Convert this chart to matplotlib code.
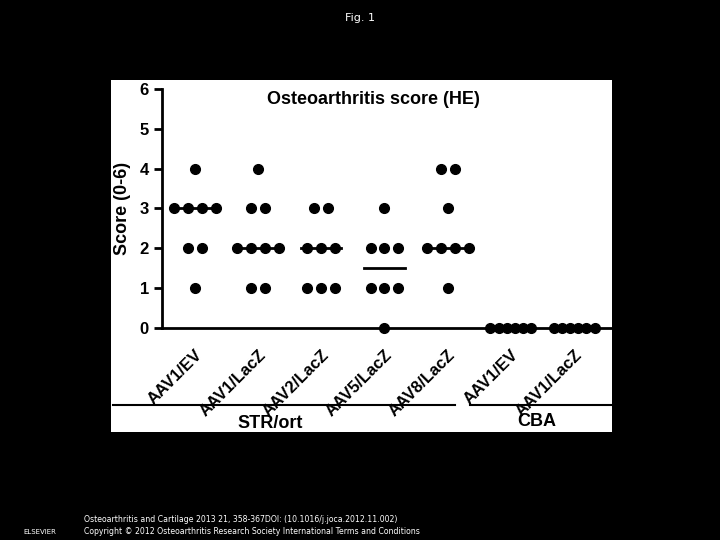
import numpy as np
import matplotlib
matplotlib.use('Agg')
from matplotlib import pyplot
from matplotlib.patches import Rectangle
from matplotlib.lines import Line2D

groups = ['AAV1/EV', 'AAV1/LacZ', 'AAV2/LacZ', 'AAV5/LacZ', 'AAV8/LacZ', 'AAV1/EV', 'AAV1/LacZ']
scores = [
    [4, 3, 3, 3, 3, 2, 2, 1],
    [4, 3, 3, 2, 2, 2, 2, 1, 1],
    [3, 3, 2, 2, 2, 1, 1, 1],
    [3, 2, 2, 2, 1, 1, 1, 0],
    [4, 4, 3, 2, 2, 2, 2, 1],
    [0, 0, 0, 0, 0, 0],
    [0, 0, 0, 0, 0, 0],
]
medians = [3, 2, 2, 1.5, 2, 0, 0]

fig = pyplot.figure(figsize=(7.2, 5.4), dpi=100, facecolor='black')
fig.patches.append(Rectangle((111/720, 1-432/540), 501/720, 352/540,
                             transform=fig.transFigure, facecolor='white', zorder=-5))
ax = fig.add_axes([162/720, 1-328/540, 450/720, 239/540])
ax.set_facecolor('none')
ax.set_zorder(2)

step = 0.22
for i, vals in enumerate(scores):
    ax.plot([i-0.32, i+0.32], [medians[i], medians[i]], color='k', lw=2, zorder=2)
    vals = np.array(vals)
    for v in np.unique(vals):
        n = np.sum(vals == v)
        offs = (np.arange(n) - (n-1)/2) * (step if v > 0 else 0.13)
        ax.plot(i + offs, [v]*n, 'o', color='k', ms=7, zorder=3, clip_on=False)

ax.set_xlim(-0.52, 6.6)
ax.set_ylim(0, 6)
ax.set_yticks(range(7))
ax.set_xticks(range(len(groups)))
ax.set_xticklabels(groups, rotation=45, ha='right', va='top', rotation_mode='anchor',
                   fontsize=12, fontweight='bold', family='Liberation Sans')
for t in ax.get_yticklabels():
    t.set_fontsize(12); t.set_fontweight('bold'); t.set_family('Liberation Sans')
for s in ['top', 'right']:
    ax.spines[s].set_visible(False)
for s in ['left', 'bottom']:
    ax.spines[s].set_linewidth(2)
ax.tick_params(axis='y', width=2, length=6)
ax.tick_params(axis='x', length=0, pad=14)
ax.set_ylabel('Score (0-6)', fontsize=13, fontweight='bold', family='Liberation Sans', labelpad=6)
ax.text(0.47, 0.99, 'Osteoarthritis score (HE)', transform=ax.transAxes, ha='center', va='top',
        fontsize=13, fontweight='bold', family='Liberation Sans')

# group brackets
fig.add_artist(Line2D([113/720, 455/720], [1-405/540]*2, color='k', lw=1.5))
fig.add_artist(Line2D([470/720, 612/720], [1-405/540]*2, color='k', lw=1.5))
fig.text(270/720, 1-423/540, 'STR/ort', ha='center', va='center', fontsize=13,
         fontweight='bold', family='Liberation Sans')
fig.text(537/720, 1-422/540, 'CBA', ha='center', va='center', fontsize=13,
         fontweight='bold', family='Liberation Sans')

fig.text(0.5, 1-18/540, 'Fig. 1', ha='center', va='center', color='white', fontsize=8)
fig.text(84/720, 1-519/540, 'Osteoarthritis and Cartilage 2013 21, 358-367DOI: (10.1016/j.joca.2012.11.002)',
         color='white', fontsize=5.6, va='center')
fig.text(84/720, 1-531/540, 'Copyright \u00a9 2012 Osteoarthritis Research Society International Terms and Conditions',
         color='white', fontsize=5.6, va='center')
fig.text(40/720, 1-532/540, 'ELSEVIER', color='white', fontsize=5, ha='center', va='center')

pyplot.savefig('out.png', dpi=100, facecolor='black')
